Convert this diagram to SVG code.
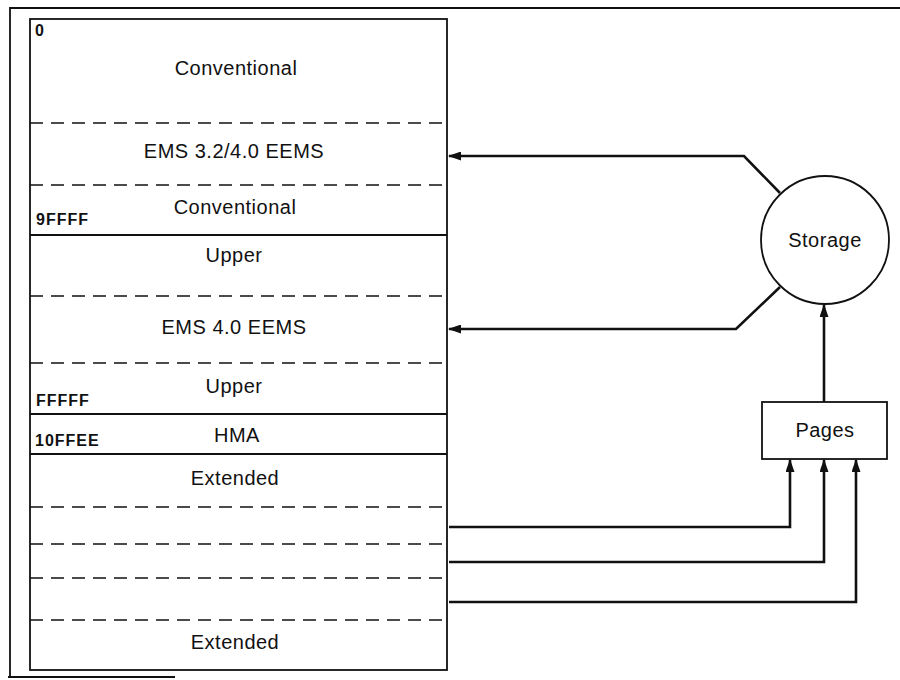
<svg xmlns="http://www.w3.org/2000/svg" width="900" height="680" viewBox="0 0 900 680">
<style>
.lbl{font-family:"Liberation Sans",Arial,sans-serif;font-size:20px;letter-spacing:0.5px;fill:#111;text-anchor:middle}
.addr{font-family:"Liberation Sans",Arial,sans-serif;font-size:16px;letter-spacing:1px;font-weight:bold;fill:#111}
.solid{stroke:#111;stroke-width:1.8;fill:none}
.dash{stroke:#111;stroke-width:1.6;stroke-dasharray:13,8;fill:none}
.conn{stroke:#111;stroke-width:2.6;fill:none;stroke-linejoin:miter}
</style>
<defs>
<marker id="ah" viewBox="0 0 13 9" refX="12" refY="4.5" markerWidth="13" markerHeight="9" markerUnits="userSpaceOnUse" orient="auto">
<path d="M0,0 L13,4.5 L0,9 z" fill="#111"/>
</marker>
</defs>
<rect width="900" height="680" fill="#fff"/>
<g id="frame">
<path class="solid" stroke-width="2" d="M10,677 L10,8 L900,8"/>
<path class="solid" stroke-width="2" d="M8,677 L175,677"/>
</g>
<g id="memory">
<rect x="30" y="19" width="417" height="651" class="solid" stroke-width="2.2"/>
<line class="dash" x1="30" y1="123" x2="447" y2="123"/>
<line class="dash" x1="30" y1="185" x2="447" y2="185"/>
<line class="solid" x1="30" y1="235" x2="447" y2="235"/>
<line class="dash" x1="30" y1="296" x2="447" y2="296"/>
<line class="dash" x1="30" y1="363" x2="447" y2="363"/>
<line class="solid" x1="30" y1="414" x2="447" y2="414"/>
<line class="solid" x1="30" y1="454" x2="447" y2="454"/>
<line class="dash" x1="30" y1="507" x2="447" y2="507"/>
<line class="dash" x1="30" y1="544" x2="447" y2="544"/>
<line class="dash" x1="30" y1="578" x2="447" y2="578"/>
<line class="dash" x1="30" y1="620" x2="447" y2="620"/>
<text class="addr" x="35" y="36">0</text>
<text class="lbl" x="236" y="75">Conventional</text>
<text class="lbl" x="234" y="158">EMS 3.2/4.0 EEMS</text>
<text class="lbl" x="235" y="214">Conventional</text>
<text class="addr" x="36" y="225">9FFFF</text>
<text class="lbl" x="234" y="262">Upper</text>
<text class="lbl" x="234" y="334">EMS 4.0 EEMS</text>
<text class="lbl" x="234" y="393">Upper</text>
<text class="addr" x="36" y="406">FFFFF</text>
<text class="lbl" x="237" y="442">HMA</text>
<text class="addr" x="35" y="446">10FFEE</text>
<text class="lbl" x="235" y="485">Extended</text>
<text class="lbl" x="235" y="649">Extended</text>
</g>
<g id="storage">
<circle cx="825" cy="240" r="64" class="solid" stroke-width="1.5"/>
<text class="lbl" x="825" y="247">Storage</text>
</g>
<g id="pages">
<rect x="762" y="402" width="125" height="57" class="solid" stroke-width="1.8"/>
<text class="lbl" x="825" y="437">Pages</text>
</g>
<g id="connectors">
<path class="conn" d="M780,193 L744,156 L449,156" marker-end="url(#ah)"/>
<path class="conn" d="M780,287 L736,329 L449,329" marker-end="url(#ah)"/>
<path class="conn" d="M824,402 L824,305" marker-end="url(#ah)"/>
<path class="conn" d="M449,527 L790,527 L790,460" marker-end="url(#ah)"/>
<path class="conn" d="M449,562 L824,562 L824,460" marker-end="url(#ah)"/>
<path class="conn" d="M449,602 L856,602 L856,460" marker-end="url(#ah)"/>
</g>
</svg>
